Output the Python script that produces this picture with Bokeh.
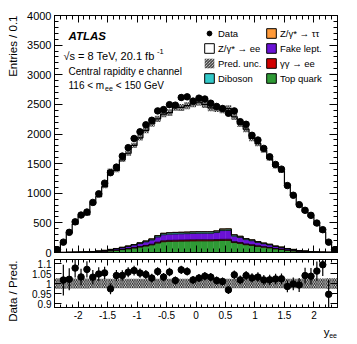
import numpy as np
from bokeh.plotting import figure
from bokeh.layouts import column, row
from bokeh.models import (Range1d, LinearAxis, SingleIntervalTicker, FixedTicker,
                          Label, Legend, LegendItem, ColumnDataSource)
from bokeh.embed import file_html
from bokeh.resources import INLINE

# ---------------- data ----------------
bin_lo, bin_width, n_bins = -2.4, 0.1, 48

data = [46, 175, 340, 517, 632, 683, 845, 990, 1170, 1347, 1441, 1627, 1770, 1924,
        2037, 2155, 2232, 2390, 2412, 2495, 2487, 2616, 2627, 2555, 2605, 2590, 2520,
        2465, 2430, 2350, 2390, 2208, 2164, 1978, 1898, 1757, 1615, 1486, 1407, 1130,
        966, 808, 712, 627, 497, 385, 175, 46]

mc_total = [60, 172, 333, 480, 612, 638, 819, 945, 1111, 1384, 1386, 1564, 1675, 1807,
            1936, 2062, 2173, 2255, 2337, 2360, 2450, 2449, 2478, 2510, 2536, 2498, 2442,
            2429, 2406, 2428, 2291, 2169, 2081, 1924, 1839, 1726, 1586, 1453, 1375, 1147,
            968, 814, 685, 605, 468, 352, 185, 60]

top_quark = [0, 1, 2, 3, 4, 6, 10, 14, 20, 29, 38, 49, 62, 76, 92, 109, 129, 160, 182,
             188, 190, 192, 194, 196, 197, 197, 197, 200, 203, 204, 168, 154, 132, 120,
             104, 90, 78, 62, 52, 38, 29, 19, 14, 8, 6, 3, 2, 1]
gamgam_ee = [0, 0, 0, 0, 0, 1, 1, 1, 2, 3, 3, 4, 5, 7, 8, 10, 11, 14, 16, 17, 17, 17, 17,
             18, 18, 18, 18, 18, 19, 19, 15, 14, 12, 11, 9, 8, 7, 5, 5, 3, 3, 2, 1, 1, 0,
             0, 0, 0]
fake_lept = [0, 0, 1, 2, 2, 3, 5, 8, 11, 16, 21, 27, 34, 42, 51, 60, 71, 88, 101, 104,
             105, 106, 107, 108, 109, 109, 109, 119, 148, 149, 93, 85, 73, 67, 57, 50, 43,
             34, 28, 21, 16, 11, 8, 5, 3, 2, 1, 0]
diboson = [0, 0, 0, 0, 1, 1, 1, 2, 3, 4, 5, 7, 8, 9, 12, 14, 16, 20, 23, 23, 24, 24, 24,
           24, 24, 24, 24, 24, 24, 24, 21, 19, 16, 15, 13, 11, 10, 8, 6, 5, 4, 2, 2, 1,
           1, 1, 0, 0]
ztautau = [0, 0, 0, 0, 0, 0, 0, 0, 0, 0, 1, 1, 1, 1, 2, 2, 3, 3, 3, 3, 4, 4, 4, 4, 4, 4,
           4, 4, 4, 4, 3, 3, 2, 2, 2, 1, 2, 1, 1, 1, 0, 0, 0, 0, 0, 0, 0, 0]

pred_unc = [0.026, 0.026, 0.025, 0.025, 0.025, 0.025, 0.024, 0.024, 0.024, 0.024, 0.024,
            0.024, 0.024, 0.024, 0.024, 0.024, 0.024, 0.024, 0.024, 0.024, 0.024, 0.024,
            0.024, 0.024, 0.024, 0.024, 0.024, 0.024, 0.024, 0.024, 0.024, 0.024, 0.024,
            0.024, 0.024, 0.024, 0.024, 0.024, 0.024, 0.024, 0.024, 0.024, 0.025, 0.025,
            0.025, 0.025, 0.026, 0.026]

y_ticks_ratio = [0.9, 0.95, 1.0, 1.05, 1.1]
y_labels_ratio = ["0.9", "0.95", "1", "1.05", "1.1"]
x_ticks = [-2.0, -1.5, -1.0, -0.5, 0.0, 0.5, 1.0, 1.5, 2.0]
x_labels = ["-2", "-1.5", "-1", "-0.5", "0", "0.5", "1", "1.5", "2"]

# ---------------- derived ----------------
edges = np.round(bin_lo + bin_width * np.arange(n_bins + 1), 3)
left, right = edges[:-1], edges[1:]
centers = 0.5 * (left + right)
d = np.array(data, float)
mc = np.array(mc_total, float)
layers = [("Top quark", np.array(top_quark, float), "#2f9a35"),
          ("γγ → ee", np.array(gamgam_ee, float), "#d00000"),
          ("Fake lept.", np.array(fake_lept, float), "#6a12d6"),
          ("Diboson", np.array(diboson, float), "#33c9c9"),
          ("Z/γ* → ττ", np.array(ztautau, float), "#ff9a3a")]
unc = np.array(pred_unc)
derr = np.sqrt(d)
ratio = d / mc
rerr = derr / mc

FONT = "Liberation Sans"
STRIP = 20          # left strip holding the rotated axis titles
W = 329             # width of the plot column
H_TOTAL = 342
NAN = np.array([np.nan])

# ---------------- main panel ----------------
p = figure(width=W, height=258, x_range=Range1d(-2.4, 2.4), y_range=Range1d(0, 4000),
           output_backend="svg", toolbar_location=None,
           min_border_left=34, min_border_right=12, min_border_top=15, min_border_bottom=6)
p.grid.visible = False
p.outline_line_color = "black"
p.outline_line_width = 1


def style_axis(ax, maj, mnr, labels, size="11px", standoff=3):
    ax.major_tick_in = maj
    ax.major_tick_out = 0
    ax.minor_tick_in = mnr
    ax.minor_tick_out = 0
    ax.axis_line_color = "black"
    ax.major_tick_line_color = "black"
    ax.minor_tick_line_color = "black"
    ax.major_label_text_font = FONT
    if labels:
        ax.major_label_text_color = "black"
        ax.major_label_text_font_size = size
        ax.major_label_standoff = standoff
    else:
        ax.major_label_text_color = None
        ax.major_label_text_font_size = "1px"
        ax.major_label_standoff = 0


p.xaxis[0].ticker = SingleIntervalTicker(interval=0.5, num_minor_ticks=5)
style_axis(p.xaxis[0], 7, 4, False)
p.yaxis[0].ticker = SingleIntervalTicker(interval=500, num_minor_ticks=5)
style_axis(p.yaxis[0], 8, 4, True)
ax_top = LinearAxis(ticker=SingleIntervalTicker(interval=0.5, num_minor_ticks=5))
style_axis(ax_top, 7, 4, False)
p.add_layout(ax_top, "above")
ax_right = LinearAxis(ticker=SingleIntervalTicker(interval=500, num_minor_ticks=5))
style_axis(ax_right, 8, 4, False)
p.add_layout(ax_right, "right")

# stacked backgrounds
cum = np.zeros(n_bins)
tops = []
for name, vals, col in layers:
    src = ColumnDataSource(dict(left=left, right=right, bottom=cum.copy(), top=cum + vals))
    p.quad(left="left", right="right", bottom="bottom", top="top", source=src,
           fill_color=col, line_color=col, line_width=0.4)
    cum = cum + vals
    tops.append(cum.copy())
for t in tops:
    p.step(x=edges, y=np.append(t, t[-1]), mode="after", line_color="black", line_width=0.8)

# prediction uncertainty (hatched) and total MC
p.quad(left=left, right=right, bottom=mc * (1 - unc), top=mc * (1 + unc),
       fill_color=None, line_color=None, hatch_pattern="\\", hatch_color="black",
       hatch_scale=3.5, hatch_weight=0.9)
p.step(x=edges, y=np.append(mc, mc[-1]), mode="after", line_color="black", line_width=1.2)

# data
p.segment(x0=centers, x1=centers, y0=d - derr, y1=d + derr, line_color="black", line_width=1.2)
p.scatter(x=centers, y=d, marker="circle", size=6.5, fill_color="black", line_color="black")

# legend key renderers (NaN data: never drawn in the frame)
lg_pt = p.scatter(x=NAN, y=NAN, marker="circle", size=6, fill_color="black", line_color="black")
lg_zee = p.quad(left=NAN, right=NAN, top=NAN, bottom=NAN, fill_color="white", line_color="black")
lg_unc = p.quad(left=NAN, right=NAN, top=NAN, bottom=NAN, fill_color=None, line_color=None,
                hatch_pattern="\\", hatch_color="black", hatch_scale=3, hatch_weight=0.9)
lg = {}
for name, vals, col in layers:
    lg[name] = p.quad(left=NAN, right=NAN, top=NAN, bottom=NAN, fill_color=col,
                      line_color="black")


def make_legend(items, loc):
    leg = Legend(items=items, location=loc, glyph_width=12, glyph_height=12, label_height=12,
                 label_standoff=3, spacing=3, padding=0, margin=0, border_line_color=None,
                 background_fill_alpha=0, label_text_font=FONT, label_text_font_size="9.5px",
                 label_text_color="black")
    p.add_layout(leg)


make_legend([LegendItem(label="Data", renderers=[lg_pt]),
             LegendItem(label="Z/γ* → ee", renderers=[lg_zee]),
             LegendItem(label="Pred. unc.", renderers=[lg_unc]),
             LegendItem(label="Diboson", renderers=[lg["Diboson"]])], (149, 168))
make_legend([LegendItem(label="Z/γ* → ττ", renderers=[lg["Z/γ* → ττ"]]),
             LegendItem(label="Fake lept.", renderers=[lg["Fake lept."]]),
             LegendItem(label="γγ → ee", renderers=[lg["γγ → ee"]]),
             LegendItem(label="Top quark", renderers=[lg["Top quark"]])], (211, 168))


# texts (page pixel -> data helpers)
def xd(px):
    return -2.4 + (px - 54) / (283 / 4.8)


def yd(py):
    return (252 - py) * 4000 / 237


def lab(fig, x, y, text, size, style="normal", align="left", baseline="alphabetic", angle=0):
    fig.add_layout(Label(x=x, y=y, text=text, text_font=FONT, text_font_size=size,
                         text_font_style=style, text_align=align, text_baseline=baseline,
                         angle=angle, text_color="black"))


lab(p, xd(68), yd(35.7), "ATLAS", "11.5px", style="bold italic")
lab(p, xd(63), yd(55), "√s = 8 TeV, 20.1 fb", "11px")
lab(p, xd(63 + 93.5), yd(50.5), "-1", "7.5px")
lab(p, xd(68), yd(70.5), "Central rapidity e channel", "10px")
lab(p, xd(68), yd(84.5), "116 < m", "10px")
lab(p, xd(104.6), yd(87.5), "ee", "7px")
lab(p, xd(115.3), yd(84.5), "< 150 GeV", "10px")

# ---------------- ratio panel ----------------
r = figure(width=W, height=66, x_range=p.x_range, y_range=Range1d(0.88, 1.12),
           output_backend="svg", toolbar_location=None,
           min_border_left=34, min_border_right=12, min_border_top=1, min_border_bottom=17)
r.grid.visible = False
r.outline_line_color = "black"
r.xaxis[0].ticker = SingleIntervalTicker(interval=0.5, num_minor_ticks=5)
r.xaxis[0].major_label_overrides = {t: s for t, s in zip(x_ticks, x_labels)}
style_axis(r.xaxis[0], 6, 3, True, size="10px", standoff=3)
r.yaxis[0].ticker = FixedTicker(ticks=y_ticks_ratio, minor_ticks=[])
r.yaxis[0].major_label_overrides = {t: s for t, s in zip(y_ticks_ratio, y_labels_ratio)}
style_axis(r.yaxis[0], 7, 0, True, size="10px", standoff=3)
rt = LinearAxis(ticker=SingleIntervalTicker(interval=0.5, num_minor_ticks=5))
style_axis(rt, 6, 3, False)
r.add_layout(rt, "above")
rr = LinearAxis(ticker=FixedTicker(ticks=y_ticks_ratio, minor_ticks=[]))
style_axis(rr, 7, 0, False)
r.add_layout(rr, "right")

r.quad(left=left, right=right, bottom=1 - unc, top=1 + unc, fill_color=None, line_color=None,
       hatch_pattern="\\", hatch_color="black", hatch_scale=3.5, hatch_weight=0.9)
r.segment(x0=centers, x1=centers, y0=ratio - rerr, y1=ratio + rerr, line_color="black",
          line_width=1.2)
r.scatter(x=centers, y=ratio, marker="circle", size=6.5, fill_color="black", line_color="black")

# ---------------- strips for axis titles (text only) ----------------
strip_l = figure(width=STRIP, height=H_TOTAL, x_range=Range1d(0, STRIP),
                 y_range=Range1d(0, H_TOTAL), x_axis_type=None, y_axis_type=None,
                 output_backend="svg", toolbar_location=None, min_border=0)
strip_l.grid.visible = False
strip_l.outline_line_color = None
lab(strip_l, 12, H_TOTAL - 15, "Entries / 0.1", "11.5px", align="right", baseline="middle",
    angle=np.pi / 2)
lab(strip_l, 12, H_TOTAL - 260, "Data / Pred.", "11.5px", align="right", baseline="middle",
    angle=np.pi / 2)

B_TOP = 258 + 66
B_H = H_TOTAL - B_TOP
strip_b = figure(width=W, height=B_H, x_range=Range1d(STRIP, STRIP + W),
                 y_range=Range1d(0, B_H), x_axis_type=None, y_axis_type=None,
                 output_backend="svg", toolbar_location=None, min_border=0)
strip_b.grid.visible = False
strip_b.outline_line_color = None
lab(strip_b, 333, B_TOP + B_H - 331, "y", "11.5px")
lab(strip_b, 339.3, B_TOP + B_H - 334.5, "ee", "7px")

layout = row(strip_l, column(p, r, strip_b, spacing=0), spacing=0)
open("out.html", "w").write(file_html(layout, INLINE))
